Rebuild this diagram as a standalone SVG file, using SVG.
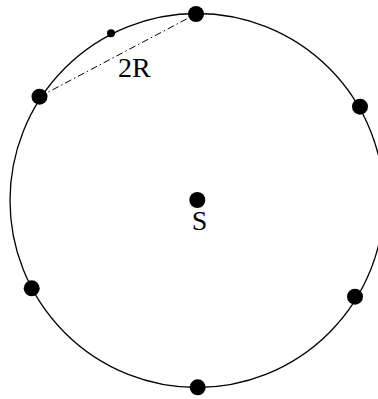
<svg xmlns="http://www.w3.org/2000/svg" width="378" height="399" viewBox="0 0 378 399">
<style>
.ring{fill:none;stroke:#000;stroke-width:1.3}
.dot{fill:#000}
.lbl{font-family:"Liberation Serif","Times New Roman",serif;font-size:28px;fill:#000}
.chord{fill:none;stroke:#000;stroke-width:1;stroke-dasharray:7 3 1.5 3}
</style>
<rect width="378" height="399" fill="#fff"/>
<g id="circle"><circle class="ring" cx="197" cy="200.5" r="187"/></g>
<g id="connectors"><line class="chord" x1="39.5" y1="96.7" x2="196" y2="14"/></g>
<g id="n-top"><circle class="dot" cx="196" cy="14" r="8"/></g>
<g id="n-small"><circle class="dot" cx="111" cy="33.3" r="4"/></g>
<g id="n-left"><circle class="dot" cx="39.5" cy="96.7" r="8"/></g>
<g id="n-right"><circle class="dot" cx="360" cy="106.7" r="8"/></g>
<g id="n-center"><circle class="dot" cx="197.3" cy="200" r="8"/><text class="lbl" x="199.5" y="229.5" text-anchor="middle">S</text></g>
<g id="n-leftbottom"><circle class="dot" cx="31.7" cy="288.3" r="8"/></g>
<g id="n-rightbottom"><circle class="dot" cx="355" cy="296.7" r="8"/></g>
<g id="n-bottom"><circle class="dot" cx="197.7" cy="387.3" r="8"/></g>
<g id="label-2R"><text class="lbl" x="118" y="77">2R</text></g>
</svg>
